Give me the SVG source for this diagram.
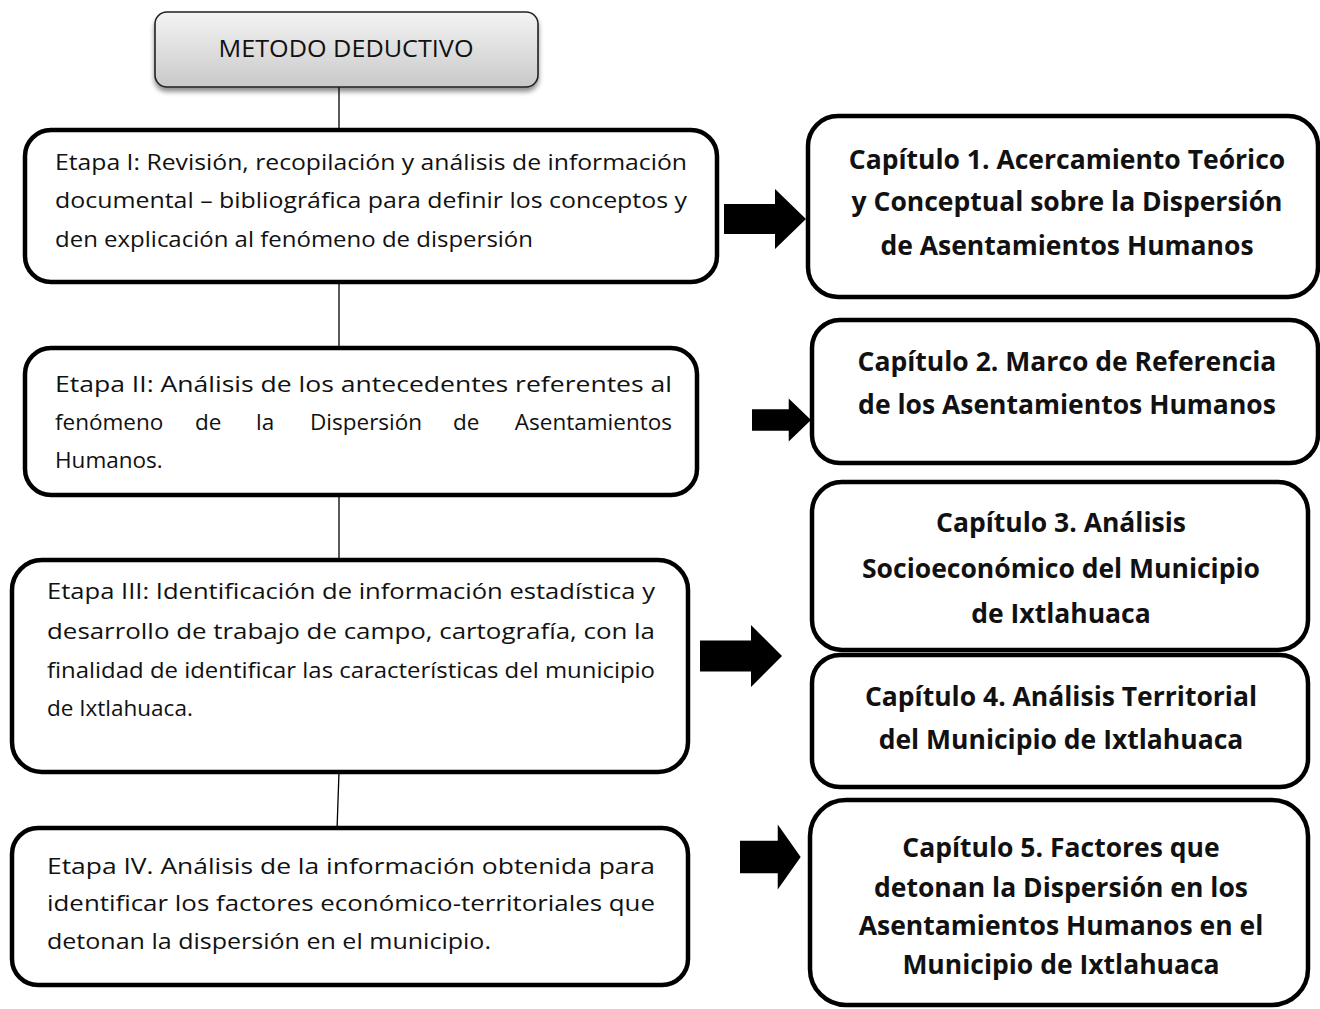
<svg xmlns="http://www.w3.org/2000/svg" width="1320" height="1009" viewBox="0 0 1320 1009">
<defs>
<linearGradient id="g" x1="0" y1="0" x2="0" y2="1">
<stop offset="0" stop-color="#f4f4f4"/>
<stop offset="1" stop-color="#c9c9c9"/>
</linearGradient>
<filter id="sh" x="-10%" y="-20%" width="120%" height="150%">
<feGaussianBlur in="SourceAlpha" stdDeviation="2.5"/>
<feOffset dx="0" dy="4"/>
<feComponentTransfer><feFuncA type="linear" slope="0.45"/></feComponentTransfer>
<feMerge><feMergeNode/><feMergeNode in="SourceGraphic"/></feMerge>
</filter>
<path id="arr" d="M0,-15 L51,-15 L51,-30 L82,0 L51,30 L51,15 L0,15 Z"/>
</defs>
<style>
.box{fill:#fff;stroke:#000;stroke-width:4.5}
.et{font-family:"Open Sans","Noto Sans",sans-serif;font-size:22.5px;fill:#111}
.cap{font-family:"Open Sans","Noto Sans",sans-serif;font-size:26.5px;font-weight:bold;fill:#111;text-anchor:middle}
.ln{stroke:#000;stroke-width:1.3;fill:none}
</style>
<rect width="1320" height="1009" fill="#fff"/>
<g id="connectors">
<line class="ln" x1="339" y1="87" x2="339" y2="130"/>
<line class="ln" x1="339" y1="282" x2="339" y2="348"/>
<line class="ln" x1="339" y1="495" x2="339" y2="560"/>
<line class="ln" x1="339" y1="772" x2="337" y2="830"/>
<use href="#arr" x="724" y="219"/>
<use href="#arr" x="752" y="420" transform="translate(752 420) scale(0.72) translate(-752 -420)"/>
<use href="#arr" x="700" y="656" transform="translate(700 656) scale(1 1.03) translate(-700 -656)"/>
<use href="#arr" x="740" y="857" transform="translate(740 857) scale(0.74 1.08) translate(-740 -857)"/>
</g>
<g id="metodo">
<rect x="155" y="12" width="383" height="75" rx="12" fill="url(#g)" stroke="#222" stroke-width="1.6" filter="url(#sh)"/>
<text x="346" y="57" font-family="'Open Sans','Noto Sans',sans-serif" font-size="23" fill="#111" text-anchor="middle" textLength="255" lengthAdjust="spacingAndGlyphs">METODO DEDUCTIVO</text>
</g>
<g id="etapa1">
<rect class="box" x="25" y="130" width="692" height="152" rx="26"/>
<text class="et" x="55" y="170" textLength="632" lengthAdjust="spacingAndGlyphs">Etapa I: Revisión, recopilación y análisis de información</text>
<text class="et" x="55" y="208" textLength="632" lengthAdjust="spacingAndGlyphs">documental – bibliográfica para definir los conceptos y</text>
<text class="et" x="55" y="247" textLength="478" lengthAdjust="spacingAndGlyphs">den explicación al fenómeno de dispersión</text>
</g>
<g id="cap1">
<rect class="box" x="808" y="116" width="510" height="181" rx="30"/>
<text class="cap" x="1067" y="169">Capítulo 1. Acercamiento Teórico</text>
<text class="cap" x="1067" y="211">y Conceptual sobre la Dispersión</text>
<text class="cap" x="1067" y="255">de Asentamientos Humanos</text>
</g>
<g id="etapa2">
<rect class="box" x="25" y="348" width="672" height="147" rx="26"/>
<text class="et" x="55" y="392" textLength="617" lengthAdjust="spacingAndGlyphs">Etapa II: Análisis de los antecedentes  referentes al</text>
<text class="et" y="430"><tspan x="55">fenómeno</tspan><tspan x="195">de</tspan><tspan x="256">la</tspan><tspan x="310">Dispersión</tspan><tspan x="453">de</tspan></text>
<text class="et" x="672" y="430" text-anchor="end">Asentamientos</text>
<text class="et" x="55" y="468">Humanos.</text>
</g>
<g id="cap2">
<rect class="box" x="812" y="320" width="506" height="143" rx="28"/>
<text class="cap" x="1067" y="371">Capítulo 2. Marco de Referencia</text>
<text class="cap" x="1067" y="414">de los Asentamientos Humanos</text>
</g>
<g id="etapa3">
<rect class="box" x="12" y="560" width="676" height="212" rx="30"/>
<text class="et" x="47" y="599" textLength="608" lengthAdjust="spacingAndGlyphs">Etapa III: Identificación de información estadística y</text>
<text class="et" x="47" y="639" textLength="608" lengthAdjust="spacingAndGlyphs">desarrollo de trabajo de campo, cartografía, con la</text>
<text class="et" x="47" y="678" textLength="608" lengthAdjust="spacingAndGlyphs">finalidad de identificar las características del municipio</text>
<text class="et" x="47" y="716">de Ixtlahuaca.</text>
</g>
<g id="cap3">
<rect class="box" x="812" y="482" width="496" height="168" rx="30"/>
<text class="cap" x="1061" y="532">Capítulo 3. Análisis</text>
<text class="cap" x="1061" y="578">Socioeconómico del Municipio</text>
<text class="cap" x="1061" y="623">de Ixtlahuaca</text>
</g>
<g id="cap4">
<rect class="box" x="812" y="655" width="496" height="132" rx="28"/>
<text class="cap" x="1061" y="706">Capítulo 4. Análisis Territorial</text>
<text class="cap" x="1061" y="749">del Municipio de Ixtlahuaca</text>
</g>
<g id="etapa4">
<rect class="box" x="12" y="828" width="676" height="157" rx="26"/>
<text class="et" x="47" y="874" textLength="608" lengthAdjust="spacingAndGlyphs">Etapa IV. Análisis de la información obtenida para</text>
<text class="et" x="47" y="911" textLength="608" lengthAdjust="spacingAndGlyphs">identificar los factores económico-territoriales que</text>
<text class="et" x="47" y="949" textLength="444" lengthAdjust="spacingAndGlyphs">detonan la dispersión en el municipio.</text>
</g>
<g id="cap5">
<rect class="box" x="810" y="800" width="498" height="205" rx="36"/>
<text class="cap" x="1061" y="857">Capítulo 5. Factores que</text>
<text class="cap" x="1061" y="897">detonan la Dispersión en los</text>
<text class="cap" x="1061" y="935">Asentamientos Humanos en el</text>
<text class="cap" x="1061" y="974">Municipio de Ixtlahuaca</text>
</g>
</svg>
